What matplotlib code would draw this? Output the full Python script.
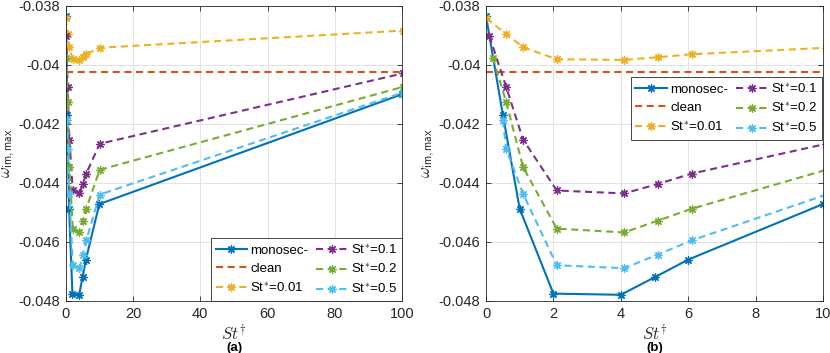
import matplotlib
matplotlib.use("Agg")
import matplotlib.pyplot as plt

plt.rcParams['font.family'] = ['Liberation Sans', 'DejaVu Sans']
plt.rcParams['mathtext.fontset'] = 'cm'

# ---------------- data ----------------
x_mono = [0, 0.5, 1, 2, 4, 5, 6, 10, 100]
y_mono = [-0.03835, -0.0417, -0.04488, -0.04775, -0.04779, -0.04720, -0.04660, -0.04472, -0.04100]

x_clean = [0, 100]
y_clean = [-0.04024, -0.04024]

x_st001 = [0.01, 0.6, 1.1, 2.1, 4.1, 5.1, 6.1, 10.1, 100.1]
y_st001 = [-0.03843, -0.03897, -0.03941, -0.03982, -0.03984, -0.03975, -0.03965, -0.03943, -0.03885]

x_st01 = [0.1, 0.6, 1.1, 2.1, 4.1, 5.1, 6.1, 10.1, 100.1]
y_st01 = [-0.03903, -0.04076, -0.04254, -0.04426, -0.04436, -0.04404, -0.04369, -0.04268, -0.04030]

x_st02 = [0.2, 0.6, 1.1, 2.1, 4.1, 5.1, 6.1, 10.1, 100.1]
y_st02 = [-0.03976, -0.04127, -0.04347, -0.04555, -0.04568, -0.04528, -0.04488, -0.04356, -0.04076]

x_st05 = [0.5, 0.6, 1.1, 2.1, 4.1, 5.1, 6.1, 10.1, 100.1]
y_st05 = [-0.04189, -0.04286, -0.04437, -0.04679, -0.04689, -0.04643, -0.04595, -0.04440, -0.04095]

labels = ['monosec-', 'clean', 'St$^{*}$=0.01', 'St$^{*}$=0.1', 'St$^{*}$=0.2', 'St$^{*}$=0.5']
colors = ['#0072BD', '#D95319', '#EDB120', '#7E2F8E', '#77AC30', '#4DBEEE']

yticks = [-0.048, -0.046, -0.044, -0.042, -0.04, -0.038]
ytick_labels = ['-0.048', '-0.046', '-0.044', '-0.042', '-0.04', '-0.038']
xticks_a = [0, 20, 40, 60, 80, 100]
xticks_b = [0, 2, 4, 6, 8, 10]

# ---------------- figure ----------------
W, H = 830, 353
fig = plt.figure(figsize=(W / 100, H / 100), dpi=100)

ax_bottom = 1 - 301 / H
ax_height = (301 - 5.5) / H
axA = fig.add_axes([65.7 / W, ax_bottom, 336.5 / W, ax_height])
axB = fig.add_axes([486 / W, ax_bottom, 337 / W, ax_height])

series = [(x_mono, y_mono), (x_clean, y_clean), (x_st001, y_st001),
          (x_st01, y_st01), (x_st02, y_st02), (x_st05, y_st05)]

ast = (8, 2, 0)
dash = (3.4, 2.2)
tick_col = '#262626'
mk = dict(marker=ast, ms=6, mew=0.9)

for ax, xt, xmax in [(axA, xticks_a, 100), (axB, xticks_b, 10)]:
    for i, ((xs, ys), lab, c) in enumerate(zip(series, labels, colors)):
        if i == 0:
            ax.plot(xs, ys, color=c, lw=1.5, ls='-', label=lab, **mk)
        elif i == 1:
            ax.plot(xs, ys, color=c, lw=1.5, ls=(0, dash), label=lab)
        else:
            ax.plot(xs, ys, color=c, lw=1.5, ls=(0, dash), label=lab, **mk)
    ax.set_xlim(0, xmax)
    ax.set_ylim(-0.048, -0.038)
    ax.set_xticks(xt)
    ax.set_xticklabels([str(v) for v in xt])
    ax.set_yticks(yticks)
    ax.set_yticklabels(ytick_labels)
    ax.grid(True, color='#e3e3e3', lw=0.7)
    ax.set_axisbelow(True)
    ax.tick_params(direction='in', length=3.5, width=0.6, top=True, right=True,
                   labelsize=10.5, colors=tick_col, pad=4)
    for s in ax.spines.values():
        s.set_color('#262626')
        s.set_linewidth(0.6)
    ax.set_ylabel(r'$\omega_{\mathsf{im,max}}$', fontsize=12, color=tick_col, labelpad=1)

leg_kw = dict(ncol=2, fontsize=9.5, handlelength=2.4, handletextpad=0.25,
              columnspacing=0.6, labelspacing=0.45, borderpad=0.35,
              frameon=True, fancybox=False, edgecolor='#262626', framealpha=1)
legA = axA.legend(loc='lower right', bbox_to_anchor=(1.0, 0.0), borderaxespad=0, **leg_kw)
legB = axB.legend(loc='upper right', bbox_to_anchor=(0.997, 0.758), borderaxespad=0, **leg_kw)
for lg in (legA, legB):
    lg.get_frame().set_linewidth(0.6)

for ax, tag in [(axA, '(a)'), (axB, '(b)')]:
    pos = ax.get_position()
    cx = pos.x0 + pos.width / 2
    fig.text(cx, 1 - 332 / H, r'$St^{\dagger}$', ha='center', va='center', fontsize=12, color=tick_col)
    fig.text(cx, 1 - 348 / H, tag, ha='center', va='center', fontsize=9.5, fontweight='bold', color='black')

fig.savefig('out.png', dpi=100)
